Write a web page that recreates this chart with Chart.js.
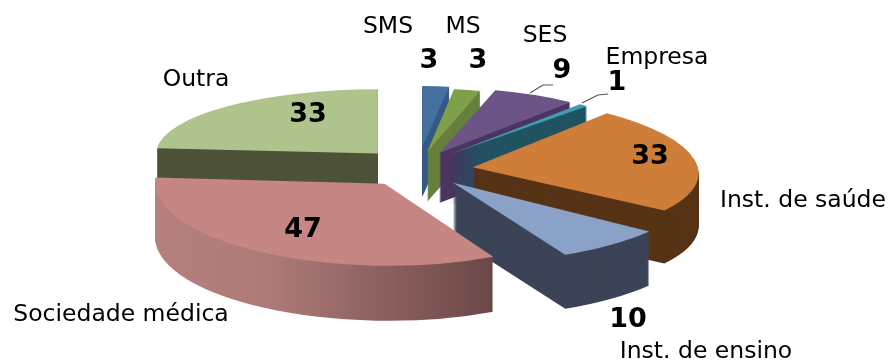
<!DOCTYPE html>
<html><head><meta charset="utf-8">
<style>html,body{margin:0;padding:0;background:#fff}canvas{display:block}</style>
<script src="https://cdn.jsdelivr.net/npm/chart.js@4"></script>
</head><body><canvas id="c" width="890" height="363"></canvas>
<script>
const categories=["SMS","MS","SES","Empresa","Inst. de saúde","Inst. de ensino","Sociedade médica","Outra"];
const values=[3,3,9,1,33,10,47,33];
const topColors=["#44709f","#7f9f4a","#6d5487","#3f9bb0","#cf7e39","#8aa2c8","#c58684","#afc48c"];
const sideColors=["#355a84","#667f3d","#4a3660","#215361","#573316","#3b4457",null,"#4d5338"];
const explode=[70,52,50,54,55,50,59,60];
const drop=[0,0,0,0,3,3,0,0];
const widen=[.89,.88,.93,.92,1,1.09,1.02,.985];
const flatten=[.271,.28,.29,.285,.32,.36,.364,.285];
const skew=[0,0,0,0,.27,0,.05,0];
const depths=[50,50,50,50,53,54,55,50];
const paintOrder=[0,1,2,3,4,7,5,6];
const labelAnchors=[[388,27],[463,27],[545,36],[657,58],[803,201],[706,352],[121,315],[196,80]];
const valueAnchors=[[429,61],[478,61],[562,71],[617,83],[650,157],[628,320],[303,230],[308,115]];
const leaders=[null,null,[[530,93],[543,85],[553,85]],[[582,103],[598,95],[608,94]],null,null,null,null];
const view={cx:418,cy:166,radius:225};

const pie3d={id:'pie3d',
 beforeDatasetDraw(){return false;},
 afterDatasetsDraw(chart){
  const ctx=chart.ctx, arcs=chart.getDatasetMeta(0).data;
  const rimGrad=(x)=>{const g=ctx.createLinearGradient(x-250,0,x+90,0);
    g.addColorStop(0,'#bb8481');g.addColorStop(.45,'#ae7b79');g.addColorStop(1,'#694545');return g;};
  paintOrder.forEach(i=>{
   const el=arcs[i], mid=(el.startAngle+el.endAngle)/2;
   const sx=widen[i], sy=flatten[i], k=view.radius/el.outerRadius;
   const px=view.cx+sx*explode[i]*Math.cos(mid), py=view.cy+drop[i]+sy*explode[i]*Math.sin(mid);
   const paint=(dy,color)=>{
    ctx.save();
    ctx.translate(px,py+dy);ctx.transform(1,0,skew[i],1,0,0);ctx.scale(sx*k,sy*k);ctx.translate(-el.x,-el.y);
    const o=el.options;
    el.options=Object.assign({},o,{backgroundColor:color,borderWidth:0});
    el.draw(ctx);el.options=o;
    ctx.restore();
   };
   const side=sideColors[i]||null;
   for(let d=depths[i];d>=1;d--){paint(d,side||rimGrad(el.x));}
   paint(0,topColors[i]);
  });
  ctx.save();
  ctx.strokeStyle='#555';ctx.lineWidth=1.2;
  leaders.forEach(l=>{if(!l)return;ctx.beginPath();l.forEach((p,n)=>n?ctx.lineTo(p[0],p[1]):ctx.moveTo(p[0],p[1]));ctx.stroke();});
  ctx.textAlign='center';ctx.textBaseline='middle';ctx.fillStyle='#000';
  ctx.font='23.5px "DejaVu Sans",sans-serif';
  categories.forEach((t,i)=>ctx.fillText(t,labelAnchors[i][0],labelAnchors[i][1]));
  ctx.font='bold 27px "DejaVu Sans",sans-serif';
  values.forEach((v,i)=>ctx.fillText(String(v),valueAnchors[i][0],valueAnchors[i][1]));
  ctx.restore();
 }};
new Chart(document.getElementById('c'),{type:'pie',
 data:{labels:categories,datasets:[{data:values,backgroundColor:topColors,borderWidth:0}]},
 options:{responsive:false,animation:false,rotation:0,
  plugins:{legend:{display:false},tooltip:{enabled:false}}},
 plugins:[pie3d]});
</script></body></html>
